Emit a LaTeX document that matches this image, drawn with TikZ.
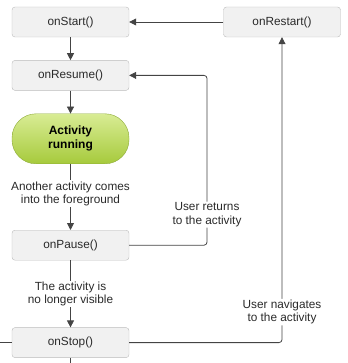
\documentclass[tikz,border=0pt]{standalone}
\usepackage{fontspec}
\setmainfont{Liberation Sans}
\usetikzlibrary{positioning,arrows.meta,calc}

\definecolor{boxfill}{HTML}{F1F1F1}
\definecolor{boxline}{HTML}{BBBBBB}
\definecolor{linecol}{HTML}{444444}
\definecolor{runtop}{HTML}{D8EC94}
\definecolor{runbot}{HTML}{A6CA3C}
\definecolor{runline}{HTML}{8CAA36}
\definecolor{txt}{HTML}{2A2A2A}

\begin{document}
\begin{tikzpicture}[
  font=\fontsize{11.8}{13.5}\selectfont,
  >={Triangle[length=7pt,width=7pt]},
  cb/.style={draw=boxline, fill=boxfill, rounded corners=3pt, inner sep=0pt,
             minimum width=117pt, minimum height=30pt, text=txt},
  run/.style={draw=runline, top color=runtop, bottom color=runbot, align=center,
              rounded corners=24pt, minimum width=117pt, minimum height=50pt,
              font=\fontsize{12}{14}\selectfont\bfseries, text=black},
  lbl/.style={fill=white, align=center, inner sep=1pt, text=txt},
  ln/.style={linecol, line width=0.8pt},
  arr/.style={->, ln},
]
\useasboundingbox (0,0) rectangle (347pt,-363pt);

% ---------- main column ----------
\node[cb] (start) at (70.5pt,-22pt) {onStart()};
\node[cb, below=23pt of start] (resume) {onResume()};
\node[run, below=23pt of resume] (running) {Activity\\running};
\node[cb, below=66pt of running] (pause) {onPause()};
\node[cb, below=67pt of pause] (stop) {onStop()};

% ---------- restart, top right ----------
\node[cb] (restart) at (282pt,-22pt) {onRestart()};

\draw[arr] (start) -- (resume);
\draw[arr] (resume) -- (running);
\draw[arr] (running) -- node[lbl, pos=0.45] {Another activity comes\\into the foreground} (pause);
\draw[arr] (pause) -- node[lbl] {The activity is\\no longer visible} (stop);
\draw[arr] (restart) -- (start);

% ---------- return paths ----------
\coordinate (retx) at (207pt,0);
\draw[arr, rounded corners=3pt] (pause.east) -| node[lbl, pos=0.59] {User returns\\to the activity}
  (retx |- resume.east) -- (resume.east);
\draw[arr, rounded corners=3pt] (stop.east) -| node[lbl, pos=0.55] {User navigates\\to the activity}
  (restart.south);

% cut-off stubs at the edges
\coordinate (edgeL) at ($(stop.west)+(-12pt,0)$);
\coordinate (edgeB) at ($(stop.south)+(0,-8pt)$);
\draw[ln] (edgeL) -- (stop.west);
\draw[ln] (stop.south) -- (edgeB);

\end{tikzpicture}
\end{document}
